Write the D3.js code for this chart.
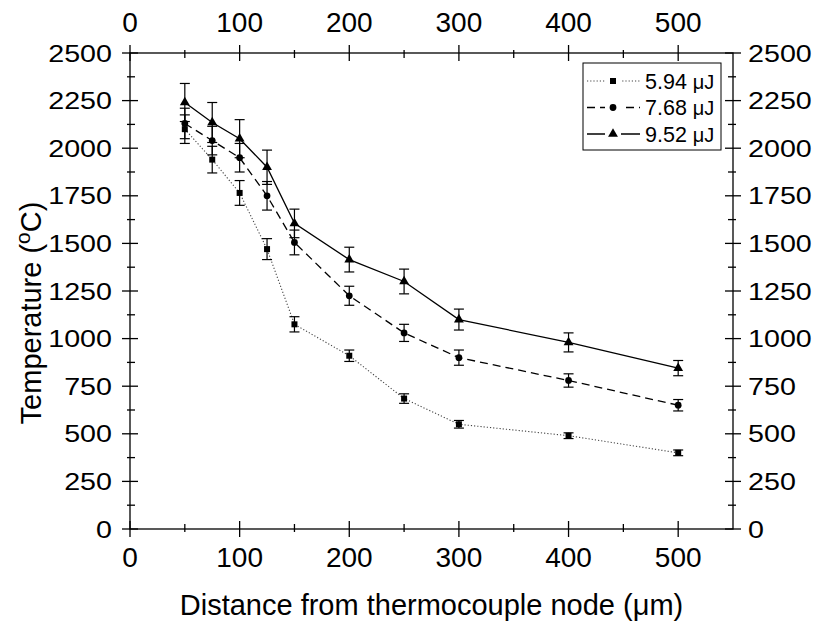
<!DOCTYPE html>
<html>
<head>
<meta charset="utf-8">
<script src="https://cdn.jsdelivr.net/npm/d3@7"></script>
<style>
  body { margin: 0; background: #fff; }
  text { font-family: "Liberation Sans", Arial, sans-serif; fill: #000; }
</style>
</head>
<body>
<div id="chart"></div>
<script>
  // data
  const distances = [50, 75, 100, 125, 150, 200, 250, 300, 400, 500];
  const t594 = [2100, 1940, 1765, 1470, 1075, 910, 685, 550, 490, 400];
  const e594 = [75, 70, 65, 55, 40, 30, 25, 20, 15, 15];
  const t768 = [2130, 2040, 1950, 1750, 1505, 1225, 1030, 900, 780, 650];
  const e768 = [80, 75, 75, 75, 65, 50, 45, 40, 35, 30];
  const t952 = [2240, 2135, 2050, 1900, 1605, 1415, 1300, 1100, 980, 845];
  const e952 = [100, 105, 100, 90, 75, 65, 65, 55, 50, 40];
  const seriesNames = ["5.94", "7.68", "9.52"];
  const xTicks = [0, 100, 200, 300, 400, 500];
  const yTicks = [0, 250, 500, 750, 1000, 1250, 1500, 1750, 2000, 2250, 2500];

  const margin = {top: 53, right: 85, bottom: 97, left: 130},
    W = 818, H = 626,
    width = W - margin.left - margin.right,
    height = H - margin.top - margin.bottom;

  const svg = d3.select("#chart")
    .append("svg")
    .attr("width", W)
    .attr("height", H);

  const g = svg.append("g")
    .attr("transform", `translate(${margin.left},${margin.top})`);

  const x = d3.scaleLinear().domain([0, 550]).range([0, width]);
  const y = d3.scaleLinear().domain([0, 2500]).range([height, 0]);

  const xMinor = d3.range(50, 550, 100);
  const yMinor = d3.range(125, 2500, 250);

  // frame
  g.append("rect")
    .attr("width", width).attr("height", height)
    .attr("fill", "none").attr("stroke", "#000").attr("stroke-width", 1.3);

  // ticks: major cross the axis, minor point inward
  function ticksX(yPos, dir) {
    xTicks.forEach(t => g.append("line")
      .attr("x1", x(t)).attr("x2", x(t))
      .attr("y1", yPos - 8).attr("y2", yPos + 8)
      .attr("stroke", "#000").attr("stroke-width", 1.3));
    xMinor.forEach(t => g.append("line")
      .attr("x1", x(t)).attr("x2", x(t))
      .attr("y1", yPos - 3 * dir).attr("y2", yPos + 5 * dir)
      .attr("stroke", "#000").attr("stroke-width", 1.3));
  }
  function ticksY(xPos, dir) {
    yTicks.forEach(t => g.append("line")
      .attr("y1", y(t)).attr("y2", y(t))
      .attr("x1", xPos - 8).attr("x2", xPos + 8)
      .attr("stroke", "#000").attr("stroke-width", 1.3));
    yMinor.forEach(t => g.append("line")
      .attr("y1", y(t)).attr("y2", y(t))
      .attr("x1", xPos - 3 * dir).attr("x2", xPos + 5 * dir)
      .attr("stroke", "#000").attr("stroke-width", 1.3));
  }
  ticksX(height, -1);
  ticksX(0, 1);
  ticksY(0, 1);
  ticksY(width, -1);

  // tick labels
  xTicks.forEach(t => {
    g.append("text").attr("x", x(t)).attr("y", height + 38)
      .attr("text-anchor", "middle").style("font-size", "28px").text(t);
    g.append("text").attr("x", x(t)).attr("y", -21)
      .attr("text-anchor", "middle").style("font-size", "28px").text(t);
  });
  // side labels are a bit wider than tall in the original
  yTicks.forEach(t => {
    g.append("text")
      .attr("transform", `translate(-18,${y(t) + 8.5}) scale(1.17,1)`)
      .attr("text-anchor", "end").style("font-size", "24.5px").text(t);
    g.append("text")
      .attr("transform", `translate(${width + 15},${y(t) + 8.5}) scale(1.17,1)`)
      .attr("text-anchor", "start").style("font-size", "24.5px").text(t);
  });

  // axis titles
  const xt = svg.append("text")
    .attr("x", margin.left + width / 2).attr("y", 615)
    .attr("text-anchor", "middle").style("font-size", "29px");
  xt.append("tspan").text("Distance from thermocouple node (");
  xt.append("tspan").text("\u03bc");
  xt.append("tspan").text("m)");

  const yt = svg.append("text")
    .attr("transform", "translate(41,313) rotate(-90)")
    .attr("text-anchor", "middle").style("font-size", "29px");
  yt.append("tspan").text("Temperature (");
  yt.append("tspan").attr("dy", -11).style("font-size", "21px").text("o");
  yt.append("tspan").attr("dy", 11).text("C)");

  // series
  const series = [
    {name: seriesNames[0], vals: t594, errs: e594, dash: "1.2,2", sw: 1.1, color: "#444", shape: d3.symbolSquare, size: 36},
    {name: seriesNames[1], vals: t768, errs: e768, dash: "8,5", sw: 1.3, color: "#000", shape: d3.symbolCircle, size: 36},
    {name: seriesNames[2], vals: t952, errs: e952, dash: null, sw: 1.3, color: "#000", shape: d3.symbolTriangle, size: 42}
  ];

  const line = d3.line().x(d => x(d[0])).y(d => y(d[1]));

  series.forEach(s => {
    const pts = distances.map((d, i) => [d, s.vals[i], s.errs[i]]);
    g.append("path")
      .attr("d", line(pts))
      .attr("fill", "none")
      .attr("stroke", s.color)
      .attr("stroke-width", s.sw)
      .attr("stroke-dasharray", s.dash);
    const eb = g.append("g").attr("stroke", "#000").attr("stroke-width", 1.2);
    pts.forEach(p => {
      const cx = x(p[0]);
      eb.append("line").attr("x1", cx).attr("x2", cx)
        .attr("y1", y(p[1] + p[2])).attr("y2", y(p[1] - p[2]));
      [p[1] + p[2], p[1] - p[2]].forEach(v => eb.append("line")
        .attr("x1", cx - 5).attr("x2", cx + 5)
        .attr("y1", y(v)).attr("y2", y(v)));
    });
    g.append("g").selectAll("path").data(pts).join("path")
      .attr("transform", d => `translate(${x(d[0])},${y(d[1])})`)
      .attr("d", d3.symbol().type(s.shape).size(s.size))
      .attr("fill", "#000");
  });

  // legend
  const lg = svg.append("g");
  lg.append("rect")
    .attr("x", 583).attr("y", 63).attr("width", 138).attr("height", 87)
    .attr("fill", "#fff").attr("stroke", "#000").attr("stroke-width", 1);
  series.forEach((s, i) => {
    const ly = 81 + i * 26.5;
    lg.append("line").attr("x1", 587).attr("x2", 640)
      .attr("y1", ly).attr("y2", ly)
      .attr("stroke", s.color).attr("stroke-width", s.sw)
      .attr("stroke-dasharray", s.dash);
    lg.append("rect").attr("x", 605).attr("y", ly - 6).attr("width", 16).attr("height", 12).attr("fill", "#fff");
    lg.append("path")
      .attr("transform", `translate(613,${ly})`)
      .attr("d", d3.symbol().type(s.shape).size(s.size))
      .attr("fill", "#000");
    const tx = lg.append("text").attr("x", 645).attr("y", ly + 7.5)
      .style("font-size", "21.5px");
    tx.append("tspan").text(s.name + " ");
    tx.append("tspan").style("font-size", "20px").text("\u03bcJ");
  });
</script>
</body>
</html>
